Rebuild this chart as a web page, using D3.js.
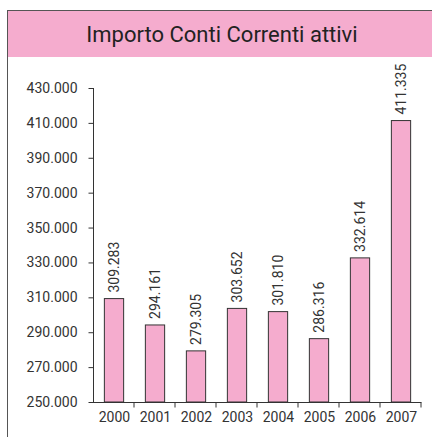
<!DOCTYPE html>
<html><head><meta charset="utf-8">
<script src="https://cdn.jsdelivr.net/npm/d3@7"></script>
<style>body{margin:0;background:#fff;}svg{display:block;}</style>
</head><body>
<script>
const title = "Importo Conti Correnti attivi";
const years = ["2000","2001","2002","2003","2004","2005","2006","2007"];
const values = [309.283, 294.161, 279.305, 303.652, 301.810, 286.316, 332.614, 411.335];
const yTicks = [250,270,290,310,330,350,370,390,410,430];

const W = 432, H = 437;
const svg = d3.select("body").append("svg").attr("width", W).attr("height", H);
const font = "Roboto, 'DejaVu Sans', sans-serif";
const pink = "#f5acce";

// frame
svg.append("rect").attr("x", 7.5).attr("y", 10.5).attr("width", 440).attr("height", 450)
  .attr("fill", "#fff").attr("stroke", "#555").attr("stroke-width", 1);
svg.append("rect").attr("x", 8).attr("y", 11).attr("width", 440).attr("height", 46).attr("fill", pink);
svg.append("text").attr("x", 222).attr("y", 42).attr("text-anchor", "middle")
  .attr("font-family", font).attr("font-size", 22).attr("fill", "#222").text(title);

const x = d3.scaleBand().domain(years).range([93, 421]).paddingInner(0.53).paddingOuter(0.265);
const xAxisScale = d3.scaleBand().domain(years).range([93, 421]);
const y = d3.scaleLinear().domain([250, 430]).range([402, 88]);

const fmt = v => d3.format(".3f")(v);

// y axis
const ya = svg.append("g").attr("transform", "translate(93.5,0)")
  .call(d3.axisLeft(y).tickValues(yTicks).tickSize(5).tickPadding(11).tickFormat(fmt));
ya.select(".domain").attr("stroke", "#333").attr("d", `M0,${y(430)}V${y(250)}`);
ya.selectAll("line").attr("stroke", "#333");
ya.selectAll("text").attr("font-family", font).attr("font-size", 14).attr("fill", "#333");

// x axis
const xa = svg.append("g").attr("transform", `translate(0,${y(250)+0.5})`);
xa.append("line").attr("x1", 91).attr("x2", 421.5).attr("stroke", "#333");
xa.selectAll("line.t").data(years.slice(1).concat(["end"])).enter().append("line")
  .attr("class","t")
  .attr("x1", d => d === "end" ? 421 : xAxisScale(d)).attr("x2", d => d === "end" ? 421 : xAxisScale(d))
  .attr("y1", 0).attr("y2", 5).attr("stroke", "#333");
xa.selectAll("text").data(years).enter().append("text")
  .attr("x", d => xAxisScale(d) + xAxisScale.bandwidth()/2 + 1)
  .attr("y", 19).attr("text-anchor", "middle")
  .attr("font-family", font).attr("font-size", 14).attr("fill", "#333").text(d => d);

// bars
svg.selectAll("rect.bar").data(values).enter().append("rect").attr("class", "bar")
  .attr("x", (d,i) => x(years[i]) + 0.5).attr("width", x.bandwidth())
  .attr("y", d => y(d)).attr("height", d => y(250) - y(d))
  .attr("fill", pink).attr("stroke", "#333").attr("stroke-width", 1);

// value labels
svg.selectAll("text.val").data(values).enter().append("text").attr("class", "val")
  .attr("transform", (d,i) => `translate(${x(years[i]) + x.bandwidth()/2 + 5.5},${y(d) - 6}) rotate(-90)`)
  .attr("font-family", font).attr("font-size", 14).attr("fill", "#333").text(d => fmt(d));
</script>
</body></html>
